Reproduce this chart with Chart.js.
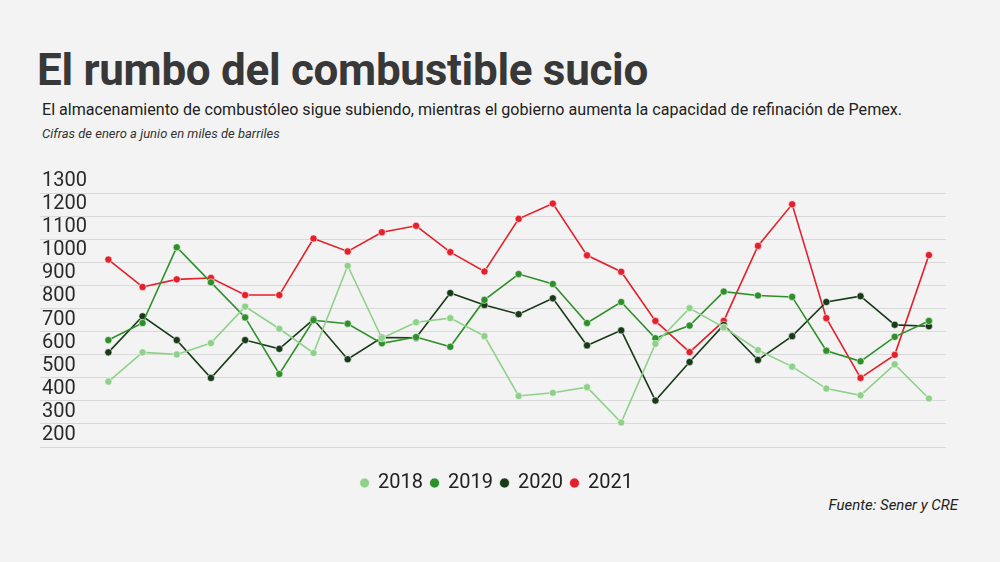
<!DOCTYPE html>
<html>
<head>
<meta charset="utf-8">
<script src="https://cdn.jsdelivr.net/npm/chart.js@4"></script>
<style>
  html, body { margin: 0; padding: 0; background: #f3f3f3; }
  body { width: 1000px; height: 562px; position: relative; font-family: Roboto, sans-serif; overflow: hidden; }
  h1 { position: absolute; left: 37px; top: 43px; margin: 0; font-size: 44px; font-weight: 700; color: #383838; letter-spacing: -0.3px; line-height: 54px; }
  .sub { position: absolute; left: 42px; top: 100px; font-size: 16.1px; color: #222; }
  .note { position: absolute; left: 42px; top: 126px; font-size: 13px; font-style: italic; color: #333; }
  .src { position: absolute; right: 42px; top: 496px; font-size: 15px; font-style: italic; color: #222; }
  #wrap { position: absolute; left: 0; top: 150px; width: 1000px; height: 353px; }
</style>
</head>
<body>
<h1>El rumbo del combustible sucio</h1>
<div class="sub">El almacenamiento de combustóleo sigue subiendo, mientras el gobierno aumenta la capacidad de refinación de Pemex.</div>
<div class="note">Cifras de enero a junio en miles de barriles</div>
<div class="src">Fuente: Sener y CRE</div>
<div id="wrap"><canvas id="chart"></canvas></div>
<script>
// semanas de enero a junio
const weeks = [1, 2, 3, 4, 5, 6, 7, 8, 9, 10, 11, 12, 13, 14, 15, 16, 17, 18, 19, 20, 21, 22, 23, 24, 25];
const years = ["2018", "2019", "2020", "2021"];

const v2018 = [483, 610, 601, 650, 808, 712, 607, 985, 671, 740, 758, 680, 421, 435, 459, 306, 647, 801, 718, 620, 548, 453, 424, 558, 410];
const v2019 = [663, 737, 1065, 913, 761, 516, 749, 734, 649, 676, 634, 837, 949, 906, 737, 828, 671, 726, 873, 856, 850, 617, 571, 677, 746];
const v2020 = [610, 766, 663, 499, 663, 625, 753, 580, 674, 673, 867, 815, 775, 844, 640, 705, 401, 568, 729, 577, 680, 828, 853, 729, 723];
const v2021 = [1012, 893, 926, 932, 858, 858, 1103, 1047, 1130, 1158, 1044, 960, 1188, 1254, 1030, 959, 746, 611, 746, 1071, 1251, 758, 499, 599, 1031];

const yTicks = [200, 300, 400, 500, 600, 700, 800, 900, 1000, 1100, 1200, 1300];

const colors = ["#8fd18a", "#2f8f2a", "#183a18", "#e3202b"];
const series = [v2018, v2019, v2020, v2021];

// nudge the legend a bit to the right, like the original
const legendShift = {
  id: "legendShift",
  afterLayout(chart) {
    chart.legend.left += 6;
    chart.legend.right += 6;
  },
};

const ctx = document.getElementById("chart").getContext("2d");

new Chart(ctx, {
  type: "line",
  data: {
    datasets: series.map((vals, k) => ({
      label: years[k],
      data: vals.map((v, i) => ({ x: weeks[i] - 1, y: v })),
      borderColor: colors[k],
      backgroundColor: colors[k],
      pointBackgroundColor: colors[k],
      pointBorderColor: "rgba(255,255,255,0.55)",
      pointBorderWidth: 1,
      pointRadius: 3.6,
      borderWidth: 1.6,
      tension: 0,
    })),
  },
  options: {
    responsive: true,
    maintainAspectRatio: false,
    animation: false,
    layout: { padding: { left: 36, right: 54, top: 43, bottom: 0 } },
    plugins: {
      legend: {
        position: "bottom",
        labels: {
          usePointStyle: true,
          pointStyle: "circle",
          boxWidth: 7,
          boxHeight: 7,
          padding: 8,
          color: "#222",
          font: { family: "Roboto", size: 20 },
        },
      },
      tooltip: { enabled: false },
    },
    scales: {
      x: {
        type: "linear",
        min: -2,
        max: 24.5,
        grid: { display: false },
        border: { display: false },
        ticks: { display: false },
        afterFit: (axis) => { axis.height = 18; },
      },
      y: {
        min: yTicks[0],
        max: yTicks[yTicks.length - 1],
        afterBuildTicks: (axis) => { axis.ticks = yTicks.map((v) => ({ value: v })); },
        border: { display: false },
        grid: { color: "#d9d9d9", lineWidth: 1, drawTicks: false },
        ticks: {
          autoSkip: false,
          mirror: true,
          padding: 2,
          labelOffset: -12,
          color: "#2a2a2a",
          font: { family: "Roboto", size: 20 },
          callback: (v) => String(v),
        },
      },
    },
  },
  plugins: [legendShift],
});
</script>
</body>
</html>
